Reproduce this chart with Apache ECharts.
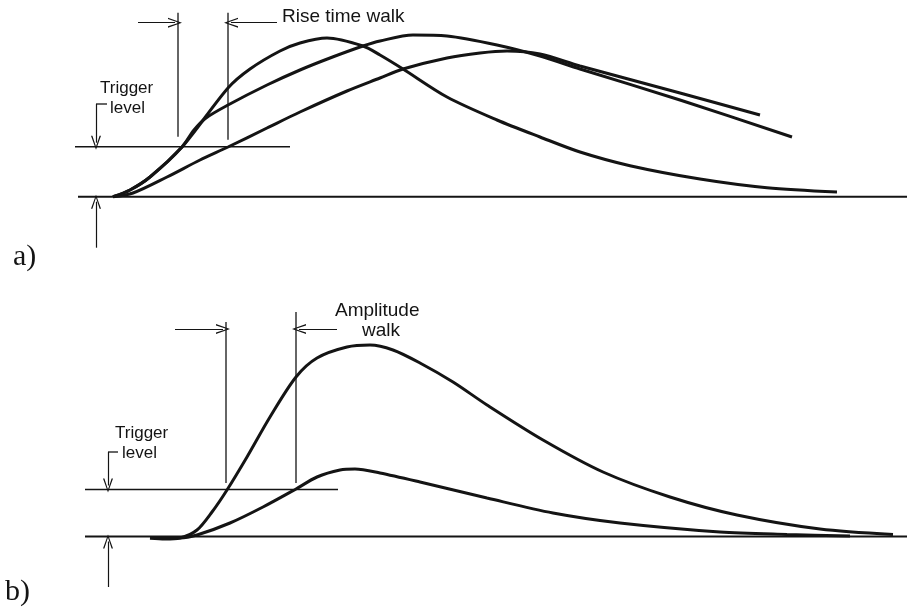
<!DOCTYPE html>
<html><head><meta charset="utf-8">
<script src="https://cdn.jsdelivr.net/npm/echarts@6/dist/echarts.min.js"></script>
<style>html,body{margin:0;padding:0;background:#fff}#c{width:907px;height:611px}</style>
</head><body><div id="c"></div>
<script>
// ---------- Panel a) Rise time walk (x = time units, y = amplitude units, baseline = 0)
const pulseFastA = [[11.3,0],[13.0,0.67],[15.0,1.97],[18.2,4.97],[22.8,10.87],[25.0,12.77],[28.0,14.57],[30.0,15.37],[32.7,15.87],[36.3,15.07],[38.0,14.17],[40.3,12.77],[44.7,9.97],[49.7,7.67],[54.0,5.97],[58.0,4.47],[63.0,3.1],[70.0,1.77],[76.7,0.9],[83.7,0.47]];
const pulseMidA  = [[11.3,0],[13.0,0.67],[15.0,1.97],[18.2,4.97],[19.4,6.67],[20.6,7.87],[22.8,9.17],[26.7,11.17],[30.0,12.67],[33.0,13.87],[36.3,15.07],[38.0,15.57],[41.3,16.17],[44.7,16.07],[49.7,15.17],[54.0,14.07],[58.0,12.77],[68.0,9.67],[79.2,5.97]];
const pulseSlowA = [[11.3,0],[13.3,0.37],[16.7,1.97],[20.0,3.67],[22.8,4.97],[26.7,6.87],[30.0,8.47],[34.7,10.57],[38.0,11.87],[40.3,12.77],[44.7,13.87],[48.0,14.37],[50.7,14.57],[54.0,14.27],[58.0,13.07],[68.0,10.37],[76.0,8.17]];
const baselineA = [7.8, 90.7];
const triggerLevelA = 5.0;
const triggerSpanA = [7.5, 29.0];
const walkTimesA = [17.8, 22.8];
const markerBottomsA = [6.0, 5.7];
const markerTopA = 18.4;
const walkArrowY_A = 17.4;
const walkArrowStartsA = [13.8, 27.7];
const bracketA = {x: 9.6, top: 9.27, tabEnd: 10.7, lowArrowFrom: -5.1};

// ---------- Panel b) Amplitude walk
const pulseLargeB = [[15.0,-0.15],[16.5,-0.25],[18.0,-0.15],[19.7,0.65],[21.2,2.45],[22.7,4.65],[24.7,7.95],[27.0,11.95],[29.6,15.95],[31.7,17.85],[34.7,18.95],[37.0,19.15],[39.3,18.65],[42.0,17.35],[45.3,15.45],[48.7,13.15],[54.3,9.65],[60.3,6.45],[67.0,3.95],[73.7,2.15],[82.0,0.75],[89.3,0.2]];
const pulseSmallB = [[15.0,-0.15],[18.0,-0.15],[19.7,0.15],[23.0,1.35],[26.3,2.95],[29.6,4.75],[31.7,5.95],[34.0,6.65],[35.5,6.75],[38.0,6.35],[42.0,5.45],[48.7,3.85],[55.3,2.35],[62.0,1.35],[72.0,0.45],[78.7,0.2],[85.0,0.05]];
const baselineB = [8.5, 90.7];
const triggerLevelB = 4.7;
const triggerSpanB = [8.5, 33.8];
const walkTimesB = [22.6, 29.6];
const markerBottomsB = [5.35, 5.35];
const markerTopsB = [21.45, 22.45];
const walkArrowY_B = 20.75;
const walkArrowStartsB = [17.5, 33.7];
const bracketB = {x: 10.8, top: 8.45, tabEnd: 11.8, lowArrowFrom: -5.05};

const INK = '#141414';
const SANS = '"Liberation Sans", Arial, sans-serif';
const SERIF = '"Liberation Serif", "DejaVu Serif", serif';
const chevron = 'path://M50,0 L100,100 L86,100 L50,22 L14,100 L0,100 Z';

function seg(name, data, idx, width) {
  return {name, type:'line', xAxisIndex:idx, yAxisIndex:idx, data, showSymbol:false, symbol:'none',
    lineStyle:{color:INK, width}, silent:true, clip:false, z:2};
}
function curve(name, data, idx) {
  return {name, type:'line', xAxisIndex:idx, yAxisIndex:idx, data, smooth:0.3,
    showSymbol:false, symbol:'none', lineStyle:{color:INK, width:3}, silent:true, clip:false, z:3};
}
function arrowSeries(idx, arrows) {
  return {type:'line', xAxisIndex:idx, yAxisIndex:idx, data:[], silent:true,
    markLine:{silent:true, animation:false, symbol:['none', chevron], symbolSize:[10,14],
      label:{show:false}, lineStyle:{color:INK, width:1.2, type:'solid'},
      emphasis:{disabled:true},
      data: arrows.map(a => [{coord:a[0]}, {coord:a[1]}])}};
}

function panelSeries(idx, p) {
  const s = [];
  s.push(seg('baseline', [[p.base[0],0],[p.base[1],0]], idx, 2));
  s.push(seg('trigger', [[p.trigSpan[0],p.trig],[p.trigSpan[1],p.trig]], idx, 1.5));
  p.times.forEach((t,i) => s.push(seg('marker'+i, [[t,p.mBottoms[i]],[t,p.mTops[i]]], idx, 1.3)));
  s.push(seg('bracketTab', [[p.br.tabEnd,p.br.top],[p.br.x,p.br.top]], idx, 1.3));
  p.curves.forEach((c,i) => s.push(curve('pulse'+i, c, idx)));
  s.push(arrowSeries(idx, [
    [[p.arrStarts[0], p.arrY], [p.times[0]-0.3, p.arrY]],
    [[p.arrStarts[1], p.arrY], [p.times[1]+0.3, p.arrY]],
    [[p.br.x, p.br.top], [p.br.x, p.trig+0.4]],
    [[p.br.x, p.br.lowArrowFrom], [p.br.x, -0.5]]
  ]));
  return s;
}

const series = [].concat(
  panelSeries(0, {base:baselineA, trig:triggerLevelA, trigSpan:triggerSpanA, times:walkTimesA,
    mBottoms:markerBottomsA, mTops:[markerTopA, markerTopA], br:bracketA, arrY:walkArrowY_A,
    arrStarts:walkArrowStartsA, curves:[pulseFastA, pulseMidA, pulseSlowA]}),
  panelSeries(1, {base:baselineB, trig:triggerLevelB, trigSpan:triggerSpanB, times:walkTimesB,
    mBottoms:markerBottomsB, mTops:markerTopsB, br:bracketB, arrY:walkArrowY_B,
    arrStarts:walkArrowStartsB, curves:[pulseLargeB, pulseSmallB]})
);

const hiddenX = i => ({type:'value', gridIndex:i, min:0, max:90.7, show:false});
const chart = echarts.init(document.getElementById('c'), null, {renderer:'canvas'});
chart.setOption({
  animation:false,
  backgroundColor:'#ffffff',
  grid:[{left:0, width:907, top:6.7, height:290}, {left:0, width:907, top:286.5, height:320}],
  xAxis:[hiddenX(0), hiddenX(1)],
  yAxis:[{type:'value', gridIndex:0, min:-10, max:19, show:false},
         {type:'value', gridIndex:1, min:-7, max:25, show:false}],
  series,
  graphic:[
    {type:'text', left:282, top:7, style:{text:'Rise time walk', font:'19px '+SANS, fill:INK}},
    {type:'text', left:100, top:80, style:{text:'Trigger', font:'17px '+SANS, fill:INK}},
    {type:'text', left:110, top:100, style:{text:'level', font:'17px '+SANS, fill:INK}},
    {type:'text', left:115, top:425, style:{text:'Trigger', font:'17px '+SANS, fill:INK}},
    {type:'text', left:122, top:445, style:{text:'level', font:'17px '+SANS, fill:INK}},
    {type:'text', left:335, top:301, style:{text:'Amplitude', font:'19px '+SANS, fill:INK}},
    {type:'text', left:362, top:321, style:{text:'walk', font:'19px '+SANS, fill:INK}},
    {type:'text', left:13, top:242, style:{text:'a)', font:'30px '+SERIF, fill:INK}},
    {type:'text', left:5, top:577, style:{text:'b)', font:'30px '+SERIF, fill:INK}}
  ]
});
</script>
</body></html>
